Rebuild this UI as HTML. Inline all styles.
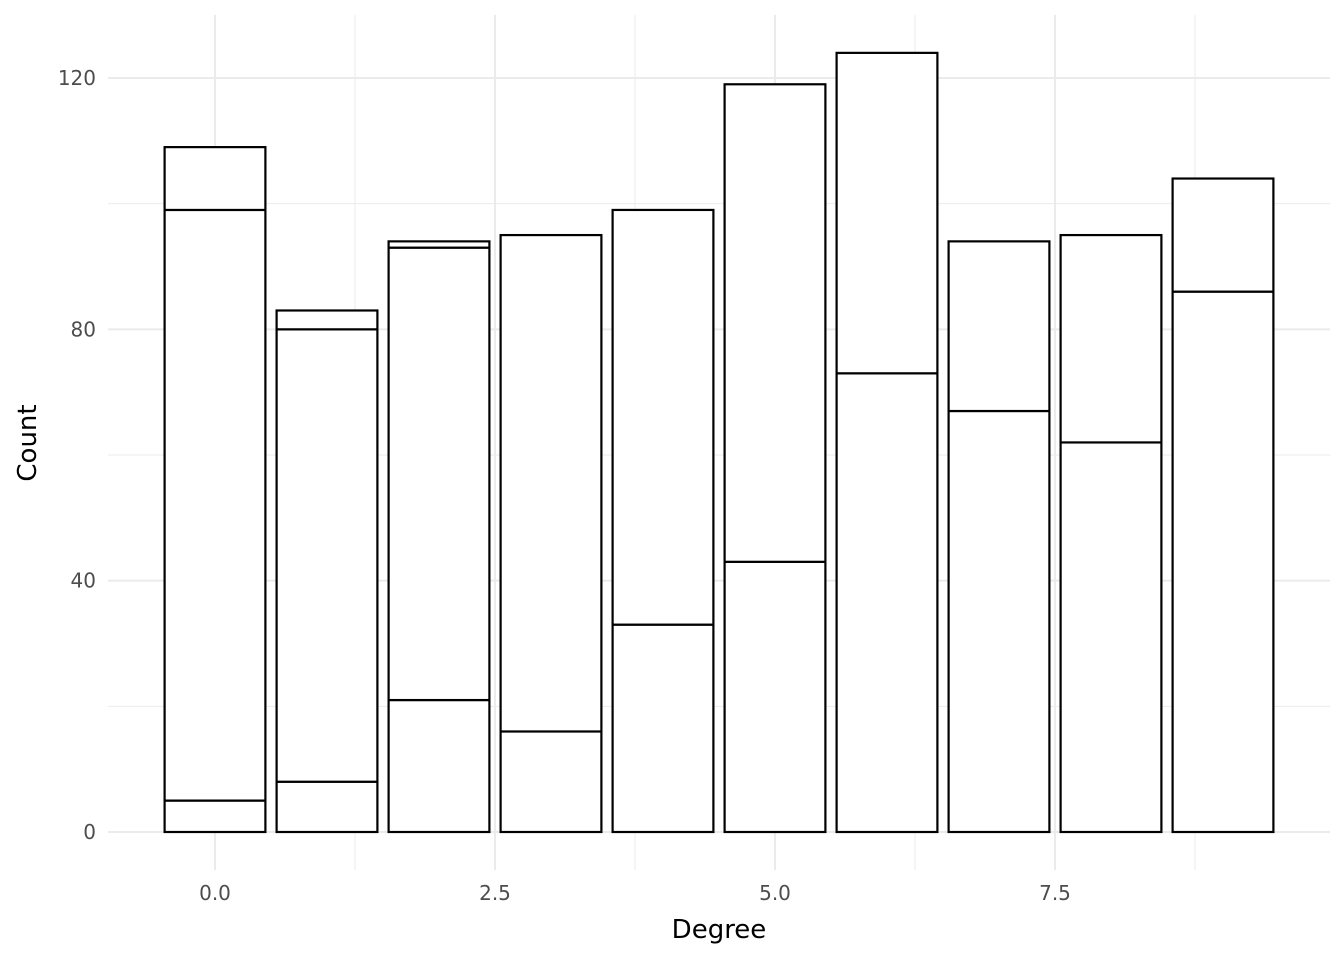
<!DOCTYPE html>
<html><head><meta charset="utf-8"><style>
html,body{margin:0;padding:0;background:#fff;}
svg{display:block;font-family:"DejaVu Sans","Liberation Sans",sans-serif;}
</style></head><body>
<svg id="chart" width="1344" height="960">
<g id="grid"></g>
<g id="bars"></g>
<g id="axes"></g>
<text x="719" y="938" text-anchor="middle" font-size="26" fill="#000">Degree</text>
<text transform="translate(36,443) rotate(-90)" text-anchor="middle" font-size="26" fill="#000">Count</text>
</svg>
<script>
const categories = [0,1,2,3,4,5,6,7,8,9];
const seriesA = [5,8,21,16,33,43,73,67,62,86];
const seriesB = [94,72,72,79,66,76,51,27,33,18];
const seriesC = [10,3,1,0,0,0,0,0,0,0];
const xTicks = [0,2.5,5,7.5];
const xTickLabels = ["0.0","2.5","5.0","7.5"];
const yTicks = [0,40,80,120];
const yTickLabels = ["0","40","80","120"];
const yMinor = [20,60,100];
const xMinor = [-1.25,1.25,3.75,6.25,8.75];

const NS="http://www.w3.org/2000/svg";
const X0=215, XU=112, Y0=832, YU=(832-78)/120;
const px=v=>X0+v*XU, py=v=>Y0-v*YU;
const PL=108, PR=1330, PT=15, PB=870;
function mk(tag,attrs,parent){const e=document.createElementNS(NS,tag);for(const k in attrs)e.setAttribute(k,attrs[k]);parent.appendChild(e);return e;}
const grid=document.getElementById('grid'), bars=document.getElementById('bars'), axes=document.getElementById('axes');
xMinor.forEach(v=>{if(px(v)<PL)return;const l=mk('line',{x1:px(v),x2:px(v),y1:PT,y2:PB,stroke:'#ebebeb','stroke-width':1},grid);

});
yMinor.forEach(v=>{const l=mk('line',{x1:PL,x2:PR,y1:py(v),y2:py(v),stroke:'#ebebeb','stroke-width':1},grid);

});
xTicks.forEach((v,i)=>{const l=mk('line',{x1:px(v),x2:px(v),y1:PT,y2:PB,stroke:'#ebebeb','stroke-width':2},grid);


const t=mk('text',{x:px(v),y:900,'text-anchor':'middle','font-size':20,fill:'#4d4d4d'},axes);t.textContent=xTickLabels[i];

});
yTicks.forEach((v,i)=>{const l=mk('line',{x1:PL,x2:PR,y1:py(v),y2:py(v),stroke:'#ebebeb','stroke-width':2},grid);


const t=mk('text',{x:96,y:py(v)+7,'text-anchor':'end','font-size':20,fill:'#4d4d4d'},axes);t.textContent=yTickLabels[i];

});
const W=0.9*XU;
categories.forEach((c,i)=>{let base=0;[seriesA,seriesB,seriesC].forEach((s,j)=>{const v=s[i];if(v<=0)return;
const r=mk('rect',{x:px(c)-W/2,y:py(base+v),width:W,height:v*YU,fill:'#fff',stroke:'#000','stroke-width':2.2},bars);


base+=v;});});
</script>
</body></html>
